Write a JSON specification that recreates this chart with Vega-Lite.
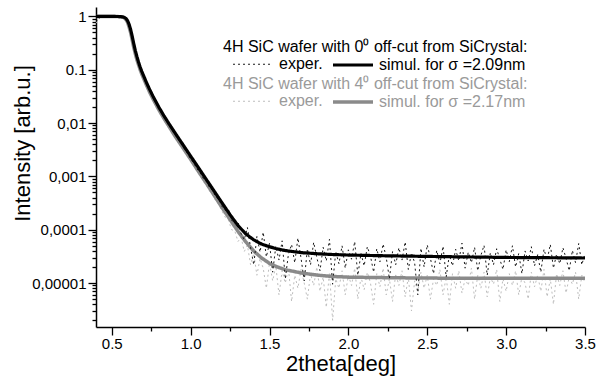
{
  "$schema": "https://vega.github.io/schema/vega-lite/v6.json",
  "width": 489,
  "height": 320,
  "autosize": {"type": "none"},
  "padding": {"left": 96, "top": 7, "right": 11, "bottom": 51},
  "config": {"view": {"stroke": null}, "font": "Liberation Sans"},
  "encoding": {
    "x": {
      "field": "t", "type": "quantitative",
      "scale": {"domain": [0.4, 3.5], "nice": false, "zero": false},
      "axis": {
        "title": "2theta[deg]", "titleFontSize": 22, "titleFontWeight": "normal", "titleColor": "#000", "titlePadding": 2,
        "values": [0.5, 0.75, 1.0, 1.25, 1.5, 1.75, 2.0, 2.25, 2.5, 2.75, 3.0, 3.25, 3.5],
        "labelExpr": "datum.value*2 == round(datum.value*2) ? format(datum.value, '.1f') : ''",
        "tickSize": {"condition": {"test": "datum.value*2 == round(datum.value*2)", "value": 8}, "value": 4},
        "grid": false, "domainColor": "#000", "domainWidth": 1.5, "tickColor": "#000", "tickWidth": 1.3,
        "labelFontSize": 15, "labelColor": "#000", "labelPadding": 1, "labelFlush": false, "labelOverlap": false, "labelBound": false
      }
    },
    "y": {
      "field": "i", "type": "quantitative",
      "scale": {"type": "log", "domain": [0.0000015, 1.5], "nice": false},
      "axis": {
        "title": "Intensity [arb.u.]", "titleFontSize": 22, "titleFontWeight": "normal", "titleColor": "#000",
        "titleX": -67, "titleY": 136, "titleAngle": -90, "titleAlign": "center", "titleBaseline": "alphabetic",
        "values": [0.000002, 0.000003, 0.000004, 0.000005, 0.000006, 0.000007, 0.000008, 0.000009,
                   0.00001, 0.00002, 0.00003, 0.00004, 0.00005, 0.00006, 0.00007, 0.00008, 0.00009,
                   0.0001, 0.0002, 0.0003, 0.0004, 0.0005, 0.0006, 0.0007, 0.0008, 0.0009,
                   0.001, 0.002, 0.003, 0.004, 0.005, 0.006, 0.007, 0.008, 0.009,
                   0.01, 0.02, 0.03, 0.04, 0.05, 0.06, 0.07, 0.08, 0.09,
                   0.1, 0.2, 0.3, 0.4, 0.5, 0.6, 0.7, 0.8, 0.9, 1],
        "labelExpr": "abs(log(datum.value)/LN10 - round(log(datum.value)/LN10)) > 0.001 ? '' : datum.value > 0.5 ? '1' : datum.value > 0.05 ? '0.1' : datum.value > 0.005 ? '0,01' : datum.value > 0.0005 ? '0,001' : datum.value > 0.00005 ? '0,0001' : '0,00001'",
        "tickSize": {"condition": {"test": "abs(log(datum.value)/LN10 - round(log(datum.value)/LN10)) < 0.001", "value": 8}, "value": 4},
        "grid": false, "domainColor": "#000", "domainWidth": 1.5, "tickColor": "#000", "tickWidth": 1.3,
        "labelFontSize": 15, "labelColor": "#000", "labelPadding": 2, "labelFlush": false, "labelOverlap": false, "labelBound": false
      }
    }
  },
  "layer": [
    {
      "data": {"values": [
        {"t":0.40,"i":0.75,"k":"e"},{"t":0.41,"i":0.84,"k":"e"},{"t":0.42,"i":0.92,"k":"e"},{"t":0.43,"i":0.96,"k":"e"},{"t":0.44,"i":0.99,"k":"e"},
        {"t":0.46,"i":1.0,"k":"e"},{"t":0.48,"i":1.0,"k":"e"},{"t":0.50,"i":1.0,"k":"e"},{"t":0.52,"i":0.99,"k":"e"},{"t":0.54,"i":0.99,"k":"e"},
        {"t":0.56,"i":0.97,"k":"e"},{"t":0.57,"i":0.95,"k":"e"},{"t":0.58,"i":0.91,"k":"e"},{"t":0.59,"i":0.84,"k":"e"},{"t":0.60,"i":0.72,"k":"e"},
        {"t":0.61,"i":0.57,"k":"e"},{"t":0.62,"i":0.44,"k":"e"},{"t":0.63,"i":0.33,"k":"e"},{"t":0.64,"i":0.25,"k":"e"},{"t":0.65,"i":0.19,"k":"e"},
        {"t":0.66,"i":0.15,"k":"e"},{"t":0.67,"i":0.12,"k":"e"},{"t":0.68,"i":0.098,"k":"e"},{"t":0.69,"i":0.083,"k":"e"},{"t":0.70,"i":0.070,"k":"e"},
        {"t":0.72,"i":0.052,"k":"e"},{"t":0.74,"i":0.039,"k":"e"},{"t":0.76,"i":0.029,"k":"e"},{"t":0.78,"i":0.0225,"k":"e"},{"t":0.80,"i":0.0172,"k":"e"},
        {"t":0.82,"i":0.0137,"k":"e"},{"t":0.84,"i":0.0108,"k":"e"},{"t":0.86,"i":0.0085,"k":"e"},{"t":0.88,"i":0.0069,"k":"e"},{"t":0.90,"i":0.0056,"k":"e"},
        {"t":0.92,"i":0.0045,"k":"e"},{"t":0.94,"i":0.0037,"k":"e"},{"t":0.96,"i":0.0030,"k":"e"},{"t":0.98,"i":0.0024,"k":"e"},{"t":1.00,"i":0.0019,"k":"e"},
        {"t":1.02,"i":0.00156,"k":"e"},{"t":1.04,"i":0.00125,"k":"e"},{"t":1.06,"i":0.00102,"k":"e"},{"t":1.08,"i":0.00081,"k":"e"},{"t":1.10,"i":0.00068,"k":"e"},
        {"t":1.12,"i":0.00053,"k":"e"},{"t":1.14,"i":0.00044,"k":"e"},{"t":1.16,"i":0.00035,"k":"e"},{"t":1.18,"i":0.00029,"k":"e"},{"t":1.20,"i":0.00022,"k":"e"},
        {"t":1.22,"i":0.00017,"k":"e"},{"t":1.24,"i":0.00015,"k":"e"},{"t":1.26,"i":0.00010,"k":"e"},{"t":1.28,"i":0.000095,"k":"e"},{"t":1.30,"i":0.000060,"k":"e"},
        {"t":1.32,"i":0.000072,"k":"e"},{"t":1.34,"i":0.000039,"k":"e"},{"t":1.36,"i":0.000051,"k":"e"},{"t":1.38,"i":0.000022,"k":"e"},{"t":1.40,"i":0.000036,"k":"e"},
        {"t":1.42,"i":0.000014,"k":"e"},{"t":1.44,"i":0.000029,"k":"e"},{"t":1.46,"i":0.000019,"k":"e"},{"t":1.48,"i":0.000008,"k":"e"},{"t":1.50,"i":0.000024,"k":"e"},
        {"t":1.52,"i":0.000011,"k":"e"},{"t":1.54,"i":0.000021,"k":"e"},{"t":1.56,"i":0.000006,"k":"e"},{"t":1.58,"i":0.000017,"k":"e"},{"t":1.60,"i":0.000010,"k":"e"},
        {"t":1.62,"i":0.000019,"k":"e"},{"t":1.64,"i":0.0000045,"k":"e"},{"t":1.66,"i":0.000014,"k":"e"},{"t":1.68,"i":0.000008,"k":"e"},{"t":1.70,"i":0.000018,"k":"e"},
        {"t":1.72,"i":0.000010,"k":"e"},{"t":1.74,"i":0.000005,"k":"e"},{"t":1.76,"i":0.000015,"k":"e"},{"t":1.78,"i":0.000009,"k":"e"},{"t":1.80,"i":0.000020,"k":"e"},
        {"t":1.82,"i":0.000007,"k":"e"},{"t":1.84,"i":0.000013,"k":"e"},{"t":1.86,"i":0.0000035,"k":"e"},{"t":1.88,"i":0.000016,"k":"e"},{"t":1.90,"i":0.000002,"k":"e"},
        {"t":1.92,"i":0.000012,"k":"e"},{"t":1.94,"i":0.000008,"k":"e"},{"t":1.96,"i":0.000017,"k":"e"},{"t":1.98,"i":0.000006,"k":"e"},{"t":2.00,"i":0.000014,"k":"e"},
        {"t":2.02,"i":0.000009,"k":"e"},{"t":2.04,"i":0.000019,"k":"e"},{"t":2.06,"i":0.000005,"k":"e"},{"t":2.08,"i":0.000013,"k":"e"},{"t":2.10,"i":0.0000075,"k":"e"},
        {"t":2.12,"i":0.000016,"k":"e"},{"t":2.14,"i":0.000010,"k":"e"},{"t":2.16,"i":0.000004,"k":"e"},{"t":2.18,"i":0.000015,"k":"e"},{"t":2.20,"i":0.0000085,"k":"e"},
        {"t":2.22,"i":0.000019,"k":"e"},{"t":2.24,"i":0.000006,"k":"e"},{"t":2.26,"i":0.000012,"k":"e"},{"t":2.28,"i":0.0000045,"k":"e"},{"t":2.30,"i":0.000015,"k":"e"},
        {"t":2.32,"i":0.000009,"k":"e"},{"t":2.34,"i":0.000017,"k":"e"},{"t":2.36,"i":0.0000055,"k":"e"},{"t":2.38,"i":0.000013,"k":"e"},{"t":2.40,"i":0.000003,"k":"e"},
        {"t":2.42,"i":0.000011,"k":"e"},{"t":2.44,"i":0.000007,"k":"e"},{"t":2.46,"i":0.000016,"k":"e"},{"t":2.48,"i":0.000008,"k":"e"},{"t":2.50,"i":0.000014,"k":"e"},
        {"t":2.52,"i":0.000005,"k":"e"},{"t":2.54,"i":0.000012,"k":"e"},{"t":2.56,"i":0.000009,"k":"e"},{"t":2.58,"i":0.000018,"k":"e"},{"t":2.60,"i":0.000006,"k":"e"},
        {"t":2.62,"i":0.000013,"k":"e"},{"t":2.64,"i":0.000004,"k":"e"},{"t":2.66,"i":0.000015,"k":"e"},{"t":2.68,"i":0.000008,"k":"e"},{"t":2.70,"i":0.000017,"k":"e"},
        {"t":2.72,"i":0.0000065,"k":"e"},{"t":2.74,"i":0.000012,"k":"e"},{"t":2.76,"i":0.000009,"k":"e"},{"t":2.78,"i":0.000019,"k":"e"},{"t":2.80,"i":0.000005,"k":"e"},
        {"t":2.82,"i":0.000014,"k":"e"},{"t":2.84,"i":0.000008,"k":"e"},{"t":2.86,"i":0.000016,"k":"e"},{"t":2.88,"i":0.0000055,"k":"e"},{"t":2.90,"i":0.000013,"k":"e"},
        {"t":2.92,"i":0.0000095,"k":"e"},{"t":2.94,"i":0.000018,"k":"e"},{"t":2.96,"i":0.0000045,"k":"e"},{"t":2.98,"i":0.000012,"k":"e"},{"t":3.00,"i":0.000007,"k":"e"},
        {"t":3.02,"i":0.000015,"k":"e"},{"t":3.04,"i":0.000009,"k":"e"},{"t":3.06,"i":0.000017,"k":"e"},{"t":3.08,"i":0.000006,"k":"e"},{"t":3.10,"i":0.000013,"k":"e"},
        {"t":3.12,"i":0.000010,"k":"e"},{"t":3.14,"i":0.000005,"k":"e"},{"t":3.16,"i":0.000016,"k":"e"},{"t":3.18,"i":0.0000085,"k":"e"},{"t":3.20,"i":0.000014,"k":"e"},
        {"t":3.22,"i":0.000007,"k":"e"},{"t":3.24,"i":0.000018,"k":"e"},{"t":3.26,"i":0.0000055,"k":"e"},{"t":3.28,"i":0.000012,"k":"e"},{"t":3.30,"i":0.000004,"k":"e"},
        {"t":3.32,"i":0.000015,"k":"e"},{"t":3.34,"i":0.000009,"k":"e"},{"t":3.36,"i":0.000017,"k":"e"},{"t":3.38,"i":0.0000065,"k":"e"},{"t":3.40,"i":0.000013,"k":"e"},
        {"t":3.42,"i":0.0000095,"k":"e"},{"t":3.44,"i":0.000016,"k":"e"},{"t":3.46,"i":0.000005,"k":"e"},{"t":3.48,"i":0.000014,"k":"e"},{"t":3.50,"i":0.000010,"k":"e"},
        {"t":0.40,"i":1.0,"k":"s"},{"t":0.45,"i":1.0,"k":"s"},{"t":0.50,"i":1.0,"k":"s"},{"t":0.55,"i":0.989,"k":"s"},{"t":0.57,"i":0.966,"k":"s"},
        {"t":0.58,"i":0.933,"k":"s"},{"t":0.59,"i":0.871,"k":"s"},{"t":0.60,"i":0.776,"k":"s"},{"t":0.61,"i":0.631,"k":"s"},{"t":0.62,"i":0.490,"k":"s"},
        {"t":0.63,"i":0.355,"k":"s"},{"t":0.64,"i":0.257,"k":"s"},{"t":0.65,"i":0.195,"k":"s"},{"t":0.66,"i":0.151,"k":"s"},{"t":0.67,"i":0.123,"k":"s"},
        {"t":0.68,"i":0.100,"k":"s"},{"t":0.69,"i":0.0832,"k":"s"},{"t":0.70,"i":0.0708,"k":"s"},{"t":0.72,"i":0.0513,"k":"s"},{"t":0.74,"i":0.0380,"k":"s"},
        {"t":0.76,"i":0.0288,"k":"s"},{"t":0.78,"i":0.0224,"k":"s"},{"t":0.80,"i":0.0174,"k":"s"},{"t":0.83,"i":0.0123,"k":"s"},{"t":0.86,"i":0.00891,"k":"s"},
        {"t":0.90,"i":0.00575,"k":"s"},{"t":0.95,"i":0.00347,"k":"s"},{"t":1.00,"i":0.00209,"k":"s"},{"t":1.05,"i":0.00123,"k":"s"},{"t":1.10,"i":0.000741,"k":"s"},
        {"t":1.15,"i":0.000437,"k":"s"},{"t":1.20,"i":0.000257,"k":"s"},{"t":1.25,"i":0.000155,"k":"s"},{"t":1.30,"i":0.0000933,"k":"s"},{"t":1.35,"i":0.0000589,"k":"s"},
        {"t":1.40,"i":0.0000398,"k":"s"},{"t":1.45,"i":0.0000295,"k":"s"},{"t":1.50,"i":0.0000234,"k":"s"},{"t":1.55,"i":0.0000200,"k":"s"},{"t":1.60,"i":0.0000178,"k":"s"},
        {"t":1.70,"i":0.0000155,"k":"s"},{"t":1.80,"i":0.0000141,"k":"s"},{"t":1.90,"i":0.0000133,"k":"s"},{"t":2.00,"i":0.0000129,"k":"s"},{"t":2.25,"i":0.0000126,"k":"s"},
        {"t":2.50,"i":0.0000124,"k":"s"},{"t":2.75,"i":0.0000123,"k":"s"},{"t":3.00,"i":0.0000123,"k":"s"},{"t":3.25,"i":0.0000123,"k":"s"},{"t":3.50,"i":0.0000123,"k":"s"}
      ]},
      "mark": {"type": "line", "clip": true, "strokeCap": "butt"},
      "encoding": {
        "color": {"field": "k", "type": "nominal", "scale": {"domain": ["e", "s"], "range": ["#bdbdbd", "#8a8a8a"]},
          "legend": {"title": "4H SiC wafer with 4⁰ off-cut from SiCrystal:", "labelExpr": "datum.label == 'e' ? 'exper.' : 'simul. for σ =2.17nm'", "orient": "none", "legendX": 127, "legendY": 69, "direction": "horizontal", "columns": 2, "symbolType": "M-2.5,0H2.5", "symbolSize": 256, "symbolOffset": 20, "labelFontSize": 16, "titleFontSize": 16, "titleFontWeight": "normal", "titleColor": "#9a9a9a", "labelColor": "#9a9a9a", "titleLimit": 600, "labelLimit": 400, "columnPadding": -4, "labelOffset": 16, "titlePadding": 0, "padding": 0}},
        "strokeDash": {"field": "k", "type": "nominal", "scale": {"domain": ["e", "s"], "range": [[2, 3], [1, 0]]},
          "legend": {"title": "4H SiC wafer with 4⁰ off-cut from SiCrystal:", "labelExpr": "datum.label == 'e' ? 'exper.' : 'simul. for σ =2.17nm'", "orient": "none", "legendX": 127, "legendY": 69, "direction": "horizontal", "columns": 2, "symbolType": "M-2.5,0H2.5", "symbolSize": 256, "symbolOffset": 20, "labelFontSize": 16, "titleFontSize": 16, "titleFontWeight": "normal", "titleColor": "#9a9a9a", "labelColor": "#9a9a9a", "titleLimit": 600, "labelLimit": 400, "columnPadding": -4, "labelOffset": 16, "titlePadding": 0, "padding": 0}},
        "strokeWidth": {"field": "k", "type": "nominal", "scale": {"domain": ["e", "s"], "range": [1, 3.5]},
          "legend": {"title": "4H SiC wafer with 4⁰ off-cut from SiCrystal:", "labelExpr": "datum.label == 'e' ? 'exper.' : 'simul. for σ =2.17nm'", "orient": "none", "legendX": 127, "legendY": 69, "direction": "horizontal", "columns": 2, "symbolType": "M-2.5,0H2.5", "symbolSize": 256, "symbolOffset": 20, "labelFontSize": 16, "titleFontSize": 16, "titleFontWeight": "normal", "titleColor": "#9a9a9a", "labelColor": "#9a9a9a", "titleLimit": 600, "labelLimit": 400, "columnPadding": -4, "labelOffset": 16, "titlePadding": 0, "padding": 0}}
      }
    },
    {
      "data": {"values": [
        {"t":0.40,"i":0.78,"k":"e"},{"t":0.41,"i":0.86,"k":"e"},{"t":0.42,"i":0.93,"k":"e"},{"t":0.43,"i":0.97,"k":"e"},{"t":0.44,"i":0.99,"k":"e"},
        {"t":0.46,"i":1.0,"k":"e"},{"t":0.48,"i":1.0,"k":"e"},{"t":0.50,"i":0.99,"k":"e"},{"t":0.52,"i":1.0,"k":"e"},{"t":0.54,"i":0.99,"k":"e"},
        {"t":0.56,"i":0.98,"k":"e"},{"t":0.57,"i":0.96,"k":"e"},{"t":0.58,"i":0.93,"k":"e"},{"t":0.59,"i":0.88,"k":"e"},{"t":0.60,"i":0.78,"k":"e"},
        {"t":0.61,"i":0.64,"k":"e"},{"t":0.62,"i":0.50,"k":"e"},{"t":0.63,"i":0.38,"k":"e"},{"t":0.64,"i":0.28,"k":"e"},{"t":0.65,"i":0.21,"k":"e"},
        {"t":0.66,"i":0.165,"k":"e"},{"t":0.67,"i":0.13,"k":"e"},{"t":0.68,"i":0.105,"k":"e"},{"t":0.69,"i":0.088,"k":"e"},{"t":0.70,"i":0.075,"k":"e"},
        {"t":0.72,"i":0.056,"k":"e"},{"t":0.74,"i":0.042,"k":"e"},{"t":0.76,"i":0.031,"k":"e"},{"t":0.78,"i":0.024,"k":"e"},{"t":0.80,"i":0.0185,"k":"e"},
        {"t":0.82,"i":0.0148,"k":"e"},{"t":0.84,"i":0.0118,"k":"e"},{"t":0.86,"i":0.0092,"k":"e"},{"t":0.88,"i":0.0076,"k":"e"},{"t":0.90,"i":0.0061,"k":"e"},
        {"t":0.92,"i":0.0050,"k":"e"},{"t":0.94,"i":0.0041,"k":"e"},{"t":0.96,"i":0.0033,"k":"e"},{"t":0.98,"i":0.0027,"k":"e"},{"t":1.00,"i":0.0021,"k":"e"},
        {"t":1.02,"i":0.00178,"k":"e"},{"t":1.04,"i":0.00139,"k":"e"},{"t":1.06,"i":0.00118,"k":"e"},{"t":1.08,"i":0.00092,"k":"e"},{"t":1.10,"i":0.00080,"k":"e"},
        {"t":1.12,"i":0.00062,"k":"e"},{"t":1.14,"i":0.00054,"k":"e"},{"t":1.16,"i":0.00041,"k":"e"},{"t":1.18,"i":0.00037,"k":"e"},{"t":1.20,"i":0.00027,"k":"e"},
        {"t":1.22,"i":0.00023,"k":"e"},{"t":1.24,"i":0.00024,"k":"e"},{"t":1.26,"i":0.00015,"k":"e"},{"t":1.28,"i":0.00013,"k":"e"},{"t":1.30,"i":0.00014,"k":"e"},
        {"t":1.32,"i":0.000085,"k":"e"},{"t":1.34,"i":0.000065,"k":"e"},{"t":1.36,"i":0.00011,"k":"e"},{"t":1.38,"i":0.000046,"k":"e"},{"t":1.40,"i":0.000022,"k":"e"},
        {"t":1.42,"i":0.000075,"k":"e"},{"t":1.44,"i":0.000038,"k":"e"},{"t":1.46,"i":0.000090,"k":"e"},{"t":1.48,"i":0.000031,"k":"e"},{"t":1.50,"i":0.000056,"k":"e"},
        {"t":1.52,"i":0.000016,"k":"e"},{"t":1.54,"i":0.000049,"k":"e"},{"t":1.56,"i":0.000027,"k":"e"},{"t":1.58,"i":0.000062,"k":"e"},{"t":1.60,"i":0.000012,"k":"e"},
        {"t":1.62,"i":0.000035,"k":"e"},{"t":1.64,"i":0.000053,"k":"e"},{"t":1.66,"i":0.000024,"k":"e"},{"t":1.68,"i":0.000070,"k":"e"},{"t":1.70,"i":0.000029,"k":"e"},
        {"t":1.72,"i":0.000011,"k":"e"},{"t":1.74,"i":0.000044,"k":"e"},{"t":1.76,"i":0.000022,"k":"e"},{"t":1.78,"i":0.000058,"k":"e"},{"t":1.80,"i":0.000030,"k":"e"},
        {"t":1.82,"i":0.000017,"k":"e"},{"t":1.84,"i":0.000047,"k":"e"},{"t":1.86,"i":0.000026,"k":"e"},{"t":1.88,"i":0.000066,"k":"e"},{"t":1.90,"i":0.0000095,"k":"e"},
        {"t":1.92,"i":0.000039,"k":"e"},{"t":1.94,"i":0.000023,"k":"e"},{"t":1.96,"i":0.000050,"k":"e"},{"t":1.98,"i":0.000019,"k":"e"},{"t":2.00,"i":0.000042,"k":"e"},
        {"t":2.02,"i":0.000028,"k":"e"},{"t":2.04,"i":0.000060,"k":"e"},{"t":2.06,"i":0.000014,"k":"e"},{"t":2.08,"i":0.000036,"k":"e"},{"t":2.10,"i":0.000021,"k":"e"},
        {"t":2.12,"i":0.000048,"k":"e"},{"t":2.14,"i":0.000032,"k":"e"},{"t":2.16,"i":0.000016,"k":"e"},{"t":2.18,"i":0.000044,"k":"e"},{"t":2.20,"i":0.000025,"k":"e"},
        {"t":2.22,"i":0.000054,"k":"e"},{"t":2.24,"i":0.000030,"k":"e"},{"t":2.26,"i":0.000012,"k":"e"},{"t":2.28,"i":0.000039,"k":"e"},{"t":2.30,"i":0.000022,"k":"e"},
        {"t":2.32,"i":0.000046,"k":"e"},{"t":2.34,"i":0.000027,"k":"e"},{"t":2.36,"i":0.000059,"k":"e"},{"t":2.38,"i":0.000018,"k":"e"},{"t":2.40,"i":0.000037,"k":"e"},
        {"t":2.42,"i":0.000024,"k":"e"},{"t":2.44,"i":0.000006,"k":"e"},{"t":2.46,"i":0.000045,"k":"e"},{"t":2.48,"i":0.000020,"k":"e"},{"t":2.50,"i":0.000052,"k":"e"},
        {"t":2.52,"i":0.000029,"k":"e"},{"t":2.54,"i":0.000015,"k":"e"},{"t":2.56,"i":0.000041,"k":"e"},{"t":2.58,"i":0.000023,"k":"e"},{"t":2.60,"i":0.000049,"k":"e"},
        {"t":2.62,"i":0.000013,"k":"e"},{"t":2.64,"i":0.000034,"k":"e"},{"t":2.66,"i":0.000021,"k":"e"},{"t":2.68,"i":0.000043,"k":"e"},{"t":2.70,"i":0.000026,"k":"e"},
        {"t":2.72,"i":0.000056,"k":"e"},{"t":2.74,"i":0.000019,"k":"e"},{"t":2.76,"i":0.000038,"k":"e"},{"t":2.78,"i":0.000024,"k":"e"},{"t":2.80,"i":0.000047,"k":"e"},
        {"t":2.82,"i":0.000017,"k":"e"},{"t":2.84,"i":0.000033,"k":"e"},{"t":2.86,"i":0.000051,"k":"e"},{"t":2.88,"i":0.000014,"k":"e"},{"t":2.90,"i":0.000037,"k":"e"},
        {"t":2.92,"i":0.000022,"k":"e"},{"t":2.94,"i":0.000044,"k":"e"},{"t":2.96,"i":0.000028,"k":"e"},{"t":2.98,"i":0.000018,"k":"e"},{"t":3.00,"i":0.000042,"k":"e"},
        {"t":3.02,"i":0.000025,"k":"e"},{"t":3.04,"i":0.000050,"k":"e"},{"t":3.06,"i":0.000020,"k":"e"},{"t":3.08,"i":0.000036,"k":"e"},{"t":3.10,"i":0.000015,"k":"e"},
        {"t":3.12,"i":0.000040,"k":"e"},{"t":3.14,"i":0.000026,"k":"e"},{"t":3.16,"i":0.000048,"k":"e"},{"t":3.18,"i":0.000021,"k":"e"},{"t":3.20,"i":0.000034,"k":"e"},
        {"t":3.22,"i":0.000016,"k":"e"},{"t":3.24,"i":0.000043,"k":"e"},{"t":3.26,"i":0.000027,"k":"e"},{"t":3.28,"i":0.000053,"k":"e"},{"t":3.30,"i":0.000019,"k":"e"},
        {"t":3.32,"i":0.000035,"k":"e"},{"t":3.34,"i":0.000023,"k":"e"},{"t":3.36,"i":0.000046,"k":"e"},{"t":3.38,"i":0.000029,"k":"e"},{"t":3.40,"i":0.000017,"k":"e"},
        {"t":3.42,"i":0.000041,"k":"e"},{"t":3.44,"i":0.000024,"k":"e"},{"t":3.46,"i":0.000055,"k":"e"},{"t":3.48,"i":0.000022,"k":"e"},{"t":3.50,"i":0.000036,"k":"e"},
        {"t":0.40,"i":1.0,"k":"s"},{"t":0.45,"i":1.0,"k":"s"},{"t":0.50,"i":1.0,"k":"s"},{"t":0.55,"i":0.993,"k":"s"},{"t":0.57,"i":0.977,"k":"s"},
        {"t":0.58,"i":0.955,"k":"s"},{"t":0.59,"i":0.912,"k":"s"},{"t":0.60,"i":0.832,"k":"s"},{"t":0.61,"i":0.708,"k":"s"},{"t":0.62,"i":0.562,"k":"s"},
        {"t":0.63,"i":0.417,"k":"s"},{"t":0.64,"i":0.302,"k":"s"},{"t":0.65,"i":0.224,"k":"s"},{"t":0.66,"i":0.174,"k":"s"},{"t":0.67,"i":0.138,"k":"s"},
        {"t":0.68,"i":0.112,"k":"s"},{"t":0.69,"i":0.0933,"k":"s"},{"t":0.70,"i":0.0794,"k":"s"},{"t":0.72,"i":0.0575,"k":"s"},{"t":0.74,"i":0.0427,"k":"s"},
        {"t":0.76,"i":0.0324,"k":"s"},{"t":0.78,"i":0.0251,"k":"s"},{"t":0.80,"i":0.0195,"k":"s"},{"t":0.83,"i":0.0138,"k":"s"},{"t":0.86,"i":0.0100,"k":"s"},
        {"t":0.90,"i":0.00661,"k":"s"},{"t":0.95,"i":0.00398,"k":"s"},{"t":1.00,"i":0.00240,"k":"s"},{"t":1.05,"i":0.00145,"k":"s"},{"t":1.10,"i":0.000871,"k":"s"},
        {"t":1.15,"i":0.000525,"k":"s"},{"t":1.20,"i":0.000316,"k":"s"},{"t":1.25,"i":0.000191,"k":"s"},{"t":1.30,"i":0.000120,"k":"s"},{"t":1.35,"i":0.0000832,"k":"s"},
        {"t":1.40,"i":0.0000646,"k":"s"},{"t":1.45,"i":0.0000537,"k":"s"},{"t":1.50,"i":0.0000479,"k":"s"},{"t":1.55,"i":0.0000437,"k":"s"},{"t":1.60,"i":0.0000407,"k":"s"},
        {"t":1.70,"i":0.0000372,"k":"s"},{"t":1.80,"i":0.0000355,"k":"s"},{"t":1.90,"i":0.0000343,"k":"s"},{"t":2.00,"i":0.0000335,"k":"s"},{"t":2.25,"i":0.0000324,"k":"s"},
        {"t":2.50,"i":0.0000316,"k":"s"},{"t":2.75,"i":0.0000309,"k":"s"},{"t":3.00,"i":0.0000302,"k":"s"},{"t":3.25,"i":0.0000299,"k":"s"},{"t":3.50,"i":0.0000295,"k":"s"}
      ]},
      "mark": {"type": "line", "clip": true, "strokeCap": "butt"},
      "encoding": {
        "color": {"field": "k", "type": "nominal", "scale": {"domain": ["e", "s"], "range": ["#1a1a1a", "#000000"]},
          "legend": {"title": "4H SiC wafer with 0⁰ off-cut from SiCrystal:", "labelExpr": "datum.label == 'e' ? 'exper.' : 'simul. for σ =2.09nm'", "orient": "none", "legendX": 127, "legendY": 32, "direction": "horizontal", "columns": 2, "symbolType": "M-2.5,0H2.5", "symbolSize": 256, "symbolOffset": 20, "labelFontSize": 16, "titleFontSize": 16, "titleFontWeight": "normal", "titleColor": "#000", "labelColor": "#000", "titleLimit": 600, "labelLimit": 400, "columnPadding": -4, "labelOffset": 16, "titlePadding": 0, "padding": 0}},
        "strokeDash": {"field": "k", "type": "nominal", "scale": {"domain": ["e", "s"], "range": [[2, 3], [1, 0]]},
          "legend": {"title": "4H SiC wafer with 0⁰ off-cut from SiCrystal:", "labelExpr": "datum.label == 'e' ? 'exper.' : 'simul. for σ =2.09nm'", "orient": "none", "legendX": 127, "legendY": 32, "direction": "horizontal", "columns": 2, "symbolType": "M-2.5,0H2.5", "symbolSize": 256, "symbolOffset": 20, "labelFontSize": 16, "titleFontSize": 16, "titleFontWeight": "normal", "titleColor": "#000", "labelColor": "#000", "titleLimit": 600, "labelLimit": 400, "columnPadding": -4, "labelOffset": 16, "titlePadding": 0, "padding": 0}},
        "strokeWidth": {"field": "k", "type": "nominal", "scale": {"domain": ["e", "s"], "range": [1, 3.2]},
          "legend": {"title": "4H SiC wafer with 0⁰ off-cut from SiCrystal:", "labelExpr": "datum.label == 'e' ? 'exper.' : 'simul. for σ =2.09nm'", "orient": "none", "legendX": 127, "legendY": 32, "direction": "horizontal", "columns": 2, "symbolType": "M-2.5,0H2.5", "symbolSize": 256, "symbolOffset": 20, "labelFontSize": 16, "titleFontSize": 16, "titleFontWeight": "normal", "titleColor": "#000", "labelColor": "#000", "titleLimit": 600, "labelLimit": 400, "columnPadding": -4, "labelOffset": 16, "titlePadding": 0, "padding": 0}}
      }
    }
  ],
  "resolve": {"scale": {"color": "independent", "strokeDash": "independent", "strokeWidth": "independent"}}
}
